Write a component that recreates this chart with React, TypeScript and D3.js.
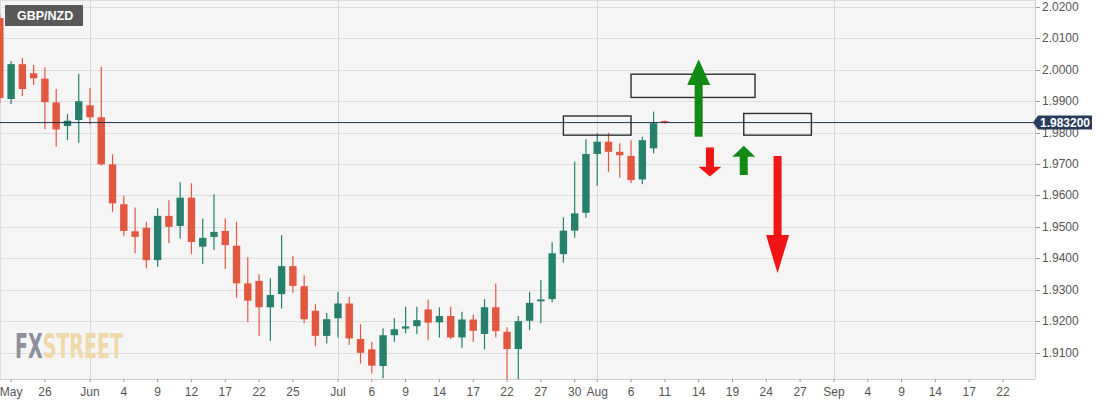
import * as d3 from 'd3';
import { useEffect } from 'react';

// GBP/NZD daily candles, 20 May -> 11 Aug 2020 (one entry per weekday)
const firstCandleDate = '2020-05-20';
const opens = [
  2.0165, 1.9907, 2.0018, 1.9989, 1.9972, 1.9896, 1.9821, 1.9840,
  1.9887, 1.9849, 1.9699, 1.9572, 1.9486, 1.9497, 1.9394, 1.9535, 1.9503, 1.9593,
  1.9437, 1.9468, 1.9487, 1.9440, 1.9320, 1.9328, 1.9244, 1.9286, 1.9375, 1.9311,
  1.9233, 1.9153, 1.9209, 1.9256, 1.9143, 1.9110, 1.9057, 1.9155, 1.9176, 1.9184,
  1.9237, 1.9196, 1.9216, 1.9148, 1.9205, 1.9159, 1.9244, 1.9166, 1.9111, 1.9201,
  1.9263, 1.9270, 1.9413, 1.9488, 1.9545, 1.9732, 1.9771, 1.9739, 1.9726, 1.9651,
  1.9750, 1.9837,
];
const highs = [
  2.0175, 2.0028, 2.0038, 2.0015, 2.0007, 1.9939, 1.9859, 1.9987,
  1.9941, 2.0010, 1.9731, 1.9599, 1.9562, 1.9516, 1.9559, 1.9585, 1.9642, 1.9639,
  1.9527, 1.9604, 1.9527, 1.9516, 1.9403, 1.9349, 1.9336, 1.9474, 1.9407, 1.9346,
  1.9254, 1.9226, 1.9293, 1.9277, 1.9190, 1.9134, 1.9177, 1.9209, 1.9246, 1.9246,
  1.9269, 1.9244, 1.9246, 1.9230, 1.9221, 1.9270, 1.9320, 1.9180, 1.9216, 1.9293,
  1.9331, 1.9451, 1.9530, 1.9707, 1.9779, 1.9798, 1.9800, 1.9766, 1.9776, 1.9787,
  1.9867, 1.9839,
];
const lows = [
  1.9894, 1.9891, 1.9917, 1.9952, 1.9811, 1.9755, 1.9776, 1.9768,
  1.9827, 1.9695, 1.9548, 1.9472, 1.9416, 1.9368, 1.9373, 1.9449, 1.9463, 1.9413,
  1.9382, 1.9426, 1.9366, 1.9274, 1.9196, 1.9153, 1.9137, 1.9240, 1.9290, 1.9193,
  1.9120, 1.9129, 1.9148, 1.9124, 1.9065, 1.9033, 1.9018, 1.9134, 1.9161, 1.9159,
  1.9139, 1.9148, 1.9143, 1.9115, 1.9134, 1.9110, 1.9148, 1.9010, 1.9014, 1.9171,
  1.9193, 1.9260, 1.9386, 1.9465, 1.9529, 1.9631, 1.9675, 1.9656, 1.9640, 1.9636,
  1.9734, 1.9829,
];
const closes = [
  1.9910, 2.0018, 1.9939, 1.9973, 1.9897, 1.9810, 1.9838, 1.9900,
  1.9849, 1.9699, 1.9575, 1.9487, 1.9468, 1.9394, 1.9535, 1.9500, 1.9593, 1.9452,
  1.9465, 1.9484, 1.9442, 1.9320, 1.9265, 1.9244, 1.9283, 1.9375, 1.9312, 1.9206,
  1.9153, 1.9206, 1.9256, 1.9145, 1.9099, 1.9058, 1.9155, 1.9174, 1.9183, 1.9203,
  1.9195, 1.9216, 1.9148, 1.9205, 1.9169, 1.9244, 1.9168, 1.9111, 1.9200, 1.9258,
  1.9269, 1.9416, 1.9488, 1.9543, 1.9732, 1.9771, 1.9739, 1.9728, 1.9649, 1.9776,
  1.9830, 1.9832,
];
const lastPrice = 1.9832;

const xTicks: [string, string][] = [
  ['2020-05-21', 'May'], ['2020-05-26', '26'], ['2020-06-01', 'Jun'], ['2020-06-04', '4'],
  ['2020-06-09', '9'], ['2020-06-12', '12'], ['2020-06-17', '17'], ['2020-06-22', '22'],
  ['2020-06-25', '25'], ['2020-07-01', 'Jul'], ['2020-07-06', '6'], ['2020-07-09', '9'],
  ['2020-07-14', '14'], ['2020-07-17', '17'], ['2020-07-22', '22'], ['2020-07-27', '27'],
  ['2020-07-30', '30'], ['2020-08-03', 'Aug'], ['2020-08-06', '6'], ['2020-08-11', '11'],
  ['2020-08-14', '14'], ['2020-08-19', '19'], ['2020-08-24', '24'], ['2020-08-27', '27'],
  ['2020-09-01', 'Sep'], ['2020-09-04', '4'], ['2020-09-09', '9'], ['2020-09-14', '14'],
  ['2020-09-17', '17'], ['2020-09-22', '22'],
];
const monthStarts = ['2020-06-01', '2020-07-01', '2020-08-03', '2020-09-01'];
const yTicks = [1.91, 1.92, 1.93, 1.94, 1.95, 1.96, 1.97, 1.98, 1.99, 2.0, 2.01, 2.02];

// drawn annotations, in date / price units
const zones = [
  { from: '2020-07-29', to: '2020-08-06', top: 1.9853, bottom: 1.9792 },
  { from: '2020-08-06', to: '2020-08-21', top: 1.9986, bottom: 1.9912 },
  { from: '2020-08-20', to: '2020-08-28', top: 1.9861, bottom: 1.9792 },
];
const arrows = [
  { date: '2020-08-14', base: 1.9787, neck: 1.9952, tip: 2.0034, color: '#138a13' },
  { date: '2020-08-17', base: 1.9753, neck: 1.9691, tip: 1.9660, color: '#f01414' },
  { date: '2020-08-20', base: 1.9665, neck: 1.9723, tip: 1.9758, color: '#138a13' },
  { date: '2020-08-25', base: 1.9726, neck: 1.9474, tip: 1.9352, color: '#f01414' },
];

const W = 1106;
const H = 405;
const plotRight = 1035;
const plotBottom = 379;
const UP = '#27806b';
const DOWN = '#e2573f';
const AXIS_FONT = "'Liberation Sans', Arial, sans-serif";

// weekdays between 1 Jun 2020 and the given day
const origin = new Date('2020-06-01T00:00:00Z');
function tradingIndex(s: string) {
  const d = new Date(s + 'T00:00:00Z');
  const step = d >= origin ? 1 : -1;
  let n = 0;
  const cur = new Date(origin);
  while (cur.getTime() !== d.getTime()) {
    cur.setUTCDate(cur.getUTCDate() + step);
    const wd = cur.getUTCDay();
    if (wd !== 0 && wd !== 6) n += step;
  }
  return n;
}

function candleDates() {
  const out: string[] = [];
  const cur = new Date(firstCandleDate + 'T00:00:00Z');
  while (out.length < opens.length) {
    const wd = cur.getUTCDay();
    if (wd !== 0 && wd !== 6) out.push(cur.toISOString().slice(0, 10));
    cur.setUTCDate(cur.getUTCDate() + 1);
  }
  return out;
}

export default function App() {
  useEffect(() => {
    document.body.style.margin = '0';
  }, []);

  const x = d3.scaleLinear().domain([0, 81]).range([90, 1003]);
  const y = d3.scaleLinear().domain([1.91, 2.02]).range([352.5, 7]);
  const fmt = d3.format('.4f');

  const candles = candleDates().map((d, i) => ({
    d, o: opens[i], h: highs[i], l: lows[i], c: closes[i],
  }));
  const bodyW = 7.4;

  const arrowPath = (a: typeof arrows[number]) => {
    const cx = x(tradingIndex(a.date));
    const sw = 4; // half shaft
    const hw = 11.5; // half head
    const p = d3.path();
    p.moveTo(cx - sw, y(a.base));
    p.lineTo(cx - sw, y(a.neck));
    p.lineTo(cx - hw, y(a.neck));
    p.lineTo(cx, y(a.tip));
    p.lineTo(cx + hw, y(a.neck));
    p.lineTo(cx + sw, y(a.neck));
    p.lineTo(cx + sw, y(a.base));
    p.closePath();
    return p.toString();
  };

  const py = y(lastPrice);

  return (
    <svg width={W} height={H} style={{ display: 'block', background: '#fff' }}>
      <defs>
        <clipPath id="plot">
          <rect x={0} y={0} width={plotRight} height={plotBottom} />
        </clipPath>
      </defs>
      <rect x={0} y={0} width={plotRight} height={plotBottom} fill="#f5f5f5" />
      <line x1={0} x2={plotRight} y1={0.5} y2={0.5} stroke="#dcdce8" />
      <line x1={0.5} x2={0.5} y1={0} y2={plotBottom} stroke="#dcdce8" />

      {/* grid */}
      {yTicks.map(t => (
        <line key={t} x1={0} x2={plotRight} y1={Math.round(y(t)) + 0.5} y2={Math.round(y(t)) + 0.5} stroke="#dedede" />
      ))}
      {monthStarts.map(m => (
        <line key={m} x1={Math.round(x(tradingIndex(m))) + 0.5} x2={Math.round(x(tradingIndex(m))) + 0.5} y1={0} y2={plotBottom} stroke="#d6d6d6" />
      ))}

      {/* watermark */}
      <text x={15} y={358} fontSize={34} textLength={108} lengthAdjust="spacingAndGlyphs"
        style={{ fontFamily: "'DejaVu Sans Condensed', 'Liberation Sans Narrow', sans-serif", fontWeight: 'bold' }}>
        <tspan fill="#8d909c">FX</tspan>
        <tspan fill="#f0d8aa">STREET</tspan>
      </text>

      {/* candles */}
      <g clipPath="url(#plot)">
        {candles.map(k => {
          const cx = x(tradingIndex(k.d));
          const col = k.c >= k.o ? UP : DOWN;
          const top = y(Math.max(k.o, k.c));
          const bot = y(Math.min(k.o, k.c));
          return (
            <g key={k.d}>
              <line x1={cx} x2={cx} y1={y(k.h)} y2={y(k.l)} stroke={col} strokeWidth={1.2} />
              <rect x={cx - bodyW / 2} y={top} width={bodyW} height={Math.max(bot - top, 1.5)} fill={col} />
            </g>
          );
        })}
      </g>

      {/* last price line */}
      <line x1={0} x2={plotRight} y1={py} y2={py} stroke="#22344f" strokeWidth={1} />

      {/* annotations */}
      {zones.map((z, i) => (
        <rect key={i} x={x(tradingIndex(z.from))} y={y(z.top)} width={x(tradingIndex(z.to)) - x(tradingIndex(z.from))}
          height={y(z.bottom) - y(z.top)} fill="none" stroke="#2e2e2e" strokeWidth={1.4} />
      ))}
      {arrows.map((a, i) => (
        <path key={i} d={arrowPath(a)} fill={a.color} />
      ))}

      {/* title badge */}
      <rect x={5} y={5} width={78} height={21} fill="#595959" />
      <text x={17} y={20} fill="#fff" fontSize={12.5} fontWeight="bold" style={{ fontFamily: AXIS_FONT }}>GBP/NZD</text>

      {/* right axis */}
      <line x1={plotRight + 0.5} x2={plotRight + 0.5} y1={0} y2={plotBottom} stroke="#cfcfcf" />
      {yTicks.map(t => (
        <g key={t}>
          <line x1={plotRight + 1} x2={plotRight + 5} y1={Math.round(y(t)) + 0.5} y2={Math.round(y(t)) + 0.5} stroke="#999" />
          <text x={plotRight + 7} y={y(t) + 4} fontSize={12} fill="#555" style={{ fontFamily: AXIS_FONT }}>{fmt(t)}</text>
        </g>
      ))}

      {/* price badge */}
      <path d={`M${plotRight - 2},${py} L${plotRight + 3},${py - 7} L${plotRight + 57},${py - 7} L${plotRight + 57},${py + 7} L${plotRight + 3},${py + 7} Z`} fill="#283d5c" />
      <text x={plotRight + 30} y={py + 4.5} textAnchor="middle" fill="#fff" fontSize={12} fontWeight="bold" style={{ fontFamily: AXIS_FONT }}>{lastPrice.toFixed(6)}</text>

      {/* bottom axis */}
      <line x1={0} x2={plotRight} y1={plotBottom + 0.5} y2={plotBottom + 0.5} stroke="#cfcfcf" />
      {xTicks.map(([d, label], i) => {
        const tx = x(tradingIndex(d));
        return (
          <g key={i}>
            <line x1={tx} x2={tx} y1={plotBottom} y2={plotBottom + 3} stroke="#999" />
            <text x={tx} y={396} textAnchor="middle" fontSize={12} fill="#555" style={{ fontFamily: AXIS_FONT }}>{label}</text>
          </g>
        );
      })}
    </svg>
  );
}
